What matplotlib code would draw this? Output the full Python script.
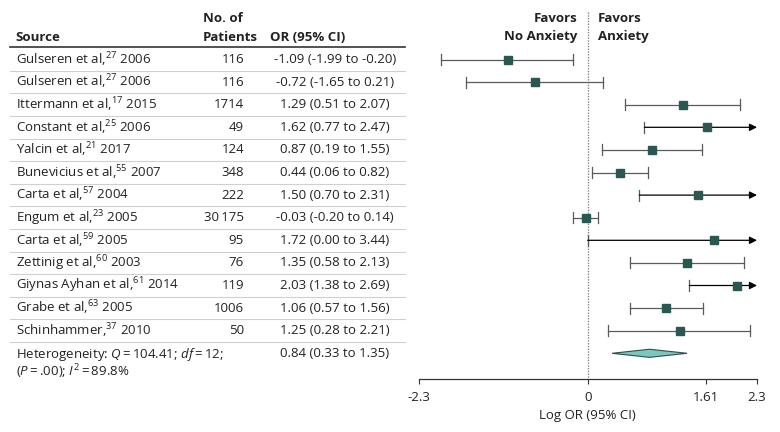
import matplotlib
matplotlib.use('Agg')
import matplotlib.pyplot as plt
from matplotlib.patches import Polygon

# study rows, top to bottom
names = ['Gulseren et al,', 'Gulseren et al,', 'Ittermann et al,', 'Constant et al,',
         'Yalcin et al,', 'Bunevicius et al,', 'Carta et al,', 'Engum et al,',
         'Carta et al,', 'Zettinig et al,', 'Giynas Ayhan et al,', 'Grabe et al,',
         'Schinhammer,']
refs = ['27', '27', '17', '25', '21', '55', '57', '23', '59', '60', '61', '63', '37']
years = ['2006', '2006', '2015', '2006', '2017', '2007', '2004', '2005', '2005',
         '2003', '2014', '2005', '2010']
patients = ['116', '116', '1714', '49', '124', '348', '222', '30\u2009175', '95',
            '76', '119', '1006', '50']
log_or = [-1.09, -0.72, 1.29, 1.62, 0.87, 0.44, 1.50, -0.03, 1.72, 1.35, 2.03, 1.06, 1.25]
ci_low = [-1.99, -1.65, 0.51, 0.77, 0.19, 0.06, 0.70, -0.20, 0.00, 0.58, 1.38, 0.57, 0.28]
ci_high = [-0.20, 0.21, 2.07, 2.47, 1.55, 0.82, 2.31, 0.14, 3.44, 2.13, 2.69, 1.56, 2.21]

pooled_or = 0.84
pooled_low = 0.33
pooled_high = 1.35

xticks = [-2.3, 0, 1.61, 2.3]
xtick_labels = ['-2.3', '0', '1.61', '2.3']
x_min, x_max = -2.3, 2.3

plt.rcParams['font.family'] = ['Open Sans', 'DejaVu Sans']
plt.rcParams['mathtext.fontset'] = 'custom'
plt.rcParams['mathtext.rm'] = 'Open Sans'
plt.rcParams['mathtext.it'] = 'Open Sans:italic'
plt.rcParams['mathtext.bf'] = 'Open Sans:bold'

W, H = 780, 432
ROW0, ROW_H = 59.5, 22.6


def row(ypix):
    return (ypix - ROW0) / ROW_H


top_px, axis_px = 10, 379
left_px, right_px = 418.5, 757
fs = 9.5

fig = plt.figure(figsize=(W / 100, H / 100), dpi=100)
ax_pos = [left_px / W, (H - axis_px) / H, (right_px - left_px) / W, (axis_px - top_px) / H]
ax = fig.add_axes(ax_pos)
tab = fig.add_axes([0, ax_pos[1], left_px / W, ax_pos[3]])
for a in (ax, tab):
    a.set_ylim(row(axis_px), row(top_px))
tab.set_xlim(0, left_px)
tab.axis('off')

# ---- table ----
dark = '#222222'
tab.text(15, row(37), 'Source', fontsize=fs, fontweight='bold', va='center', color=dark)
tab.text(203, row(18), 'No. of', fontsize=fs, fontweight='bold', va='center', color=dark)
tab.text(203, row(37), 'Patients', fontsize=fs, fontweight='bold', va='center', color=dark)
tab.text(270, row(37), 'OR (95% CI)', fontsize=fs, fontweight='bold', va='center', color=dark)
tab.plot([10, 405], [row(47), row(47)], color='#333333', lw=1.2, clip_on=False)

for i in range(len(names)):
    label = f'{names[i]}$^{{{refs[i]}}}$ {years[i]}'
    tab.text(16.5, i, label, fontsize=fs, va='center', color=dark)
    tab.text(244, i, patients[i], fontsize=fs, va='center', ha='right', color=dark)
    ci_txt = f'{log_or[i]:.2f} ({ci_low[i]:.2f} to {ci_high[i]:.2f})'
    tab.text(335, i, ci_txt, fontsize=fs, va='center', ha='center', color=dark)
    tab.plot([10, 405], [i + 0.5, i + 0.5], color='#d0d0d0', lw=0.8, clip_on=False)

n = len(names)
het = ('Heterogeneity: $Q$\u2009=\u2009104.41; $df$\u2009=\u200912;\n'
       '($P$\u2009=\u2009.00); $I^2$\u2009=\u200989.8%')
tab.text(16.5, row(346), het, fontsize=fs, va='top', color=dark, linespacing=0.95)
tab.text(335, n, f'{pooled_or:.2f} ({pooled_low:.2f} to {pooled_high:.2f})', fontsize=fs,
         va='center', ha='center', color=dark)

# ---- forest plot ----
ax.set_xlim(x_min, x_max)
line_c = '#5a5a5a'
box_c = '#2b5753'
for i in range(n):
    lo, hi = ci_low[i], ci_high[i]
    ax.plot([lo, lo], [i - 0.24, i + 0.24], color=line_c, lw=0.9)
    if hi > x_max:
        ax.annotate('', xy=(x_max, i), xytext=(lo, i),
                    arrowprops=dict(arrowstyle='-|>', color='black', lw=0.9,
                                    mutation_scale=11, shrinkA=0, shrinkB=0))
    else:
        ax.plot([lo, hi], [i, i], color=line_c, lw=0.9)
        ax.plot([hi, hi], [i - 0.24, i + 0.24], color=line_c, lw=0.9)
    ax.plot(log_or[i], i, marker='s', ms=5.2, color=box_c, mec=box_c, zorder=3)

dh = 0.18
diamond = Polygon([[pooled_low, n], [pooled_or, n - dh], [pooled_high, n], [pooled_or, n + dh]],
                  closed=True, facecolor='#7cc6c0', edgecolor='#2d4f4d', lw=0.8, zorder=3)
ax.add_patch(diamond)

ax.plot([0, 0], [row(12), row(axis_px)], color='#888888', lw=1, ls=(0, (1, 1)), zorder=1)

ax.text(-0.14, row(18), 'Favors', fontsize=fs, fontweight='bold', ha='right', va='center', color=dark)
ax.text(-0.14, row(36), 'No Anxiety', fontsize=fs, fontweight='bold', ha='right', va='center', color=dark)
ax.text(0.14, row(18), 'Favors', fontsize=fs, fontweight='bold', ha='left', va='center', color=dark)
ax.text(0.14, row(36), 'Anxiety', fontsize=fs, fontweight='bold', ha='left', va='center', color=dark)

for s in ['top', 'right', 'left']:
    ax.spines[s].set_visible(False)
ax.spines['bottom'].set_color('#333333')
ax.spines['bottom'].set_linewidth(0.9)
ax.set_yticks([])
ax.set_xticks(xticks)
ax.set_xticklabels(xtick_labels, fontsize=fs, color=dark)
ax.tick_params(axis='x', direction='out', length=3.5, width=0.8, color='#333333', pad=5)
ax.set_xlabel('Log OR (95% CI)', fontsize=fs, color=dark, labelpad=4)
ax.patch.set_visible(False)

fig.savefig('out.png', dpi=100)
